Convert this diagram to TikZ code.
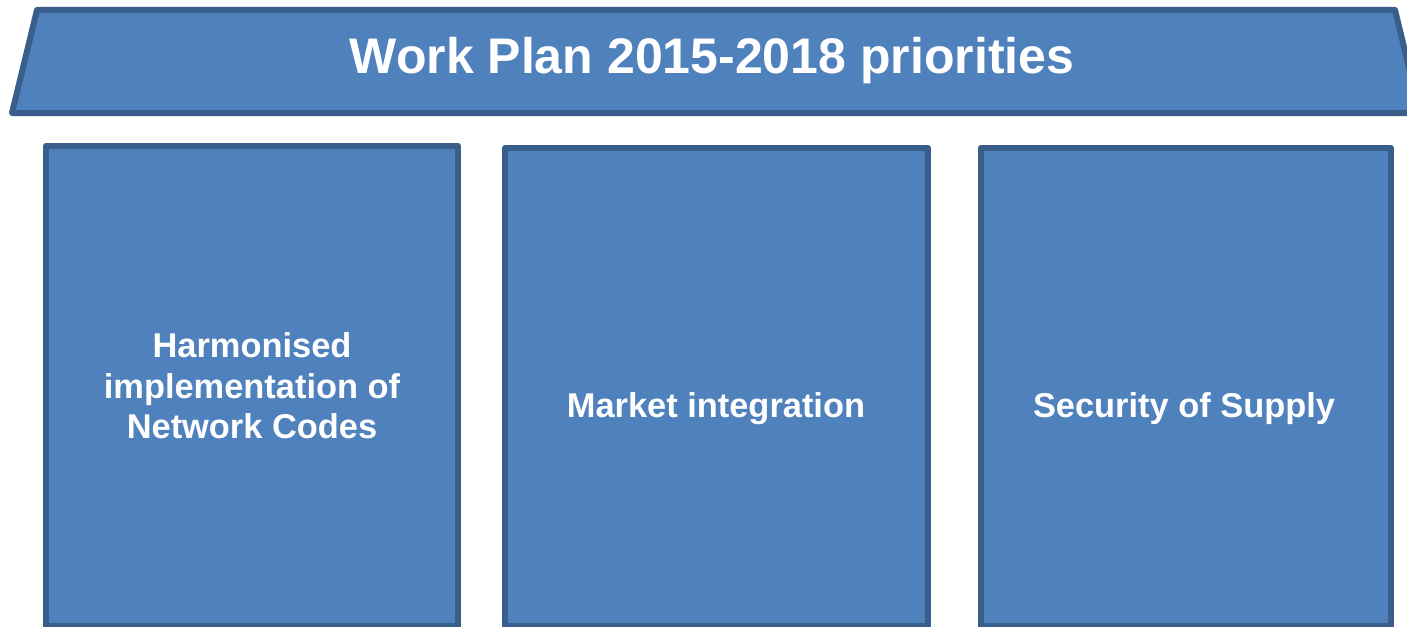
\documentclass[tikz,border=0pt]{standalone}
\usepackage{fontspec}
\setmainfont{Liberation Sans}
\definecolor{boxfill}{HTML}{4F81BD}
\definecolor{boxline}{HTML}{3A5E8B}
\begin{document}
\begin{tikzpicture}[x=1pt,y=-1pt,
  shapestyle/.style={fill=boxfill,draw=boxline,line width=6pt,line join=round},
  pillar/.style={shapestyle,rectangle,inner sep=0pt,outer sep=0pt},
  titletext/.style={text=white,font=\fontsize{50}{58}\selectfont\bfseries,anchor=base,inner sep=0pt},
  boxtext/.style={text=white,font=\fontsize{34.4}{40.5}\selectfont\bfseries,align=center,inner sep=0pt}]
\useasboundingbox (0,0) rectangle (1407,626);
\clip (0,0) rectangle (1407,626);
% roof
\coordinate (tl) at (37,10);
\coordinate (tr) at (1395,10);
\coordinate (br) at (1420,113);
\coordinate (bl) at (12,113);
\draw[shapestyle] (tl) -- (tr) -- (br) -- (bl) -- cycle;
\node[titletext] (title) at (712,74) {Work Plan 2015-2018 priorities};
% pillars
\node[pillar,minimum width=412,minimum height=480] (p1) at (252,386) {};
\node[pillar,minimum width=423,minimum height=478] (p2) at (716.5,387) {};
\node[pillar,minimum width=410,minimum height=478] (p3) at (1186,387) {};
\node[boxtext] (t1) at (252,386) {Harmonised\\implementation of\\Network Codes};
\node[boxtext,anchor=base] (t2) at (716,417) {Market integration};
\node[boxtext,anchor=base] (t3) at (1184,417) {Security of Supply};
\end{tikzpicture}
\end{document}
